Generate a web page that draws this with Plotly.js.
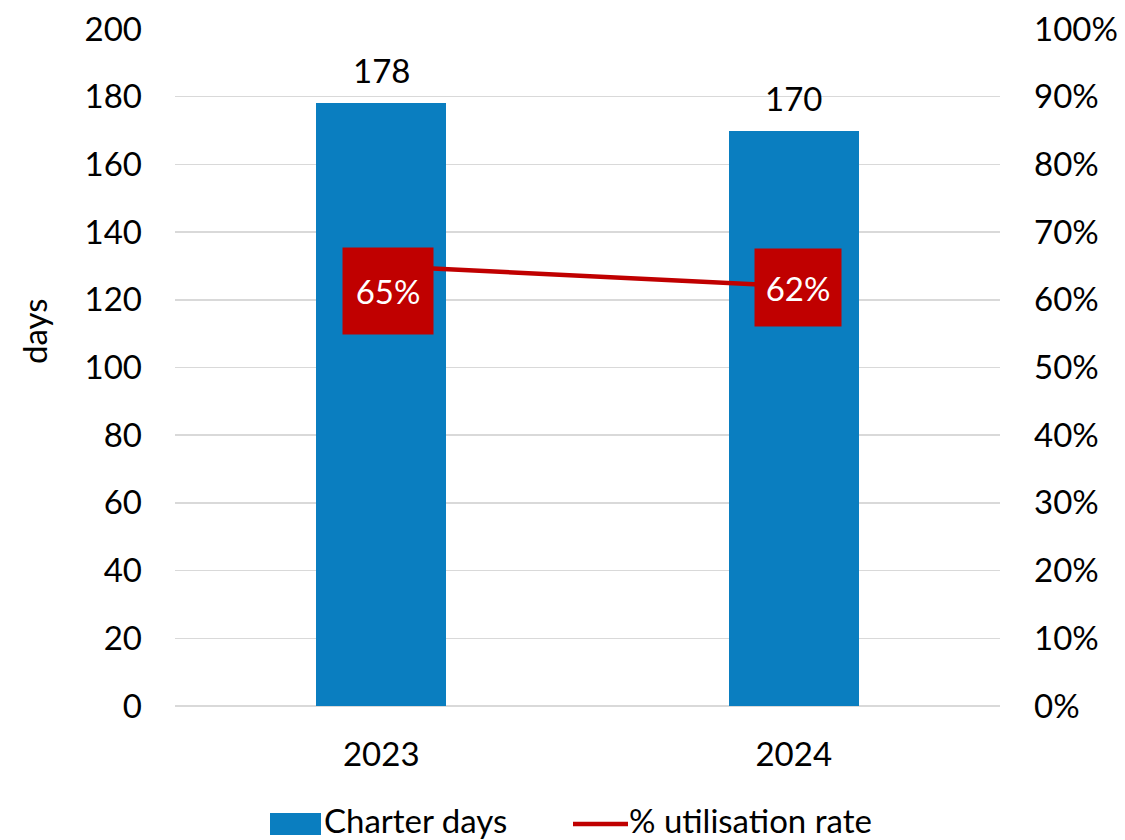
<!DOCTYPE html>
<html>
<head>
<meta charset="utf-8">
<script src="https://cdn.plot.ly/plotly-3.0.1.min.js"></script>
<style>html,body{margin:0;padding:0;background:#fff;}#chart{width:1125px;height:840px;}</style>
</head>
<body>
<div id="chart"></div>
<script>
const years = ['2023', '2024'];
const charterDays = [178, 170];
const utilisation = [0.65, 0.62];
const utilLabels = ['65%', '62%'];
const daysTicks = [0, 20, 40, 60, 80, 100, 120, 140, 160, 180, 200];
const pctTicks = [0, 0.1, 0.2, 0.3, 0.4, 0.5, 0.6, 0.7, 0.8, 0.9, 1.0];

const FONT = 'Lato, "Open Sans", sans-serif';
const FS = 33;
const BLUE = '#0a7ec0';
const RED = '#c00000';

const traces = [
  {
    type: 'bar', x: years, y: charterDays, name: 'Charter days',
    marker: {color: BLUE}, width: 0.315, yaxis: 'y', hoverinfo: 'skip'
  },
  {
    type: 'scatter', mode: 'lines', x: years, y: utilisation, name: '% utilisation rate',
    line: {color: RED, width: 4.5}, yaxis: 'y2', hoverinfo: 'skip'
  }
];

const annotations = [];
// value labels above bars (category index positions)
years.forEach((yr, i) => {
  annotations.push({
    x: i, y: charterDays[i], xref: 'x', yref: 'y', text: String(charterDays[i]),
    showarrow: false, yanchor: 'bottom', yshift: 11,
    font: {family: FONT, size: FS, color: '#000'}
  });
});
// utilisation labels in red boxes
const boxW = [90, 86], boxH = [86, 77], boxDX = [7, 4], boxDY = [-25, -1];
years.forEach((yr, i) => {
  annotations.push({
    x: i, y: utilisation[i], xref: 'x', yref: 'y2', text: utilLabels[i],
    showarrow: false, xanchor: 'center', yanchor: 'middle',
    xshift: boxDX[i], yshift: boxDY[i], width: boxW[i], height: boxH[i],
    bgcolor: RED, borderpad: 0,
    font: {family: FONT, size: FS, color: '#fff'}
  });
});
// y-axis title
annotations.push({xref: 'paper', yref: 'paper', x: (34 - 175) / 825, y: (706 - 331) / 677,
  xanchor: 'center', yanchor: 'middle', showarrow: false, text: 'days', textangle: -90,
  font: {family: FONT, size: FS, color: '#000'}});
// custom legend text
annotations.push({xref: 'paper', yref: 'paper', x: (322 - 175) / 825, y: (706 - 820) / 677,
  xanchor: 'left', yanchor: 'middle', showarrow: false, text: 'Charter days',
  font: {family: FONT, size: FS, color: '#000'}});
annotations.push({xref: 'paper', yref: 'paper', x: (627 - 175) / 825, y: (706 - 820) / 677,
  xanchor: 'left', yanchor: 'middle', showarrow: false, text: '% utilisation rate',
  font: {family: FONT, size: FS, color: '#000'}});

const shapes = [
  {type: 'rect', xref: 'paper', yref: 'paper',
   x0: (270 - 175) / 825, x1: (321 - 175) / 825,
   y0: (706 - 835) / 677, y1: (706 - 813) / 677,
   fillcolor: BLUE, line: {width: 0}},
  {type: 'line', xref: 'paper', yref: 'paper',
   x0: (573 - 175) / 825, x1: (628 - 175) / 825,
   y0: (706 - 824) / 677, y1: (706 - 824) / 677,
   line: {color: RED, width: 4.5}}
];

const layout = {
  width: 1125, height: 840,
  margin: {l: 175, r: 125, t: 29, b: 134, pad: 0},
  paper_bgcolor: '#fff', plot_bgcolor: '#fff',
  showlegend: false,
  font: {family: FONT, size: FS, color: '#000'},
  bargap: 0,
  xaxis: {
    type: 'category', range: [-0.5, 1.5], showgrid: false, showline: false,
    zeroline: false, ticks: '', ticklabelstandoff: 26,
    tickfont: {family: FONT, size: FS, color: '#000'}
  },
  yaxis: {
    range: [0, 200], tickvals: daysTicks, ticktext: daysTicks.map(String),
    showgrid: true, gridcolor: '#d9d9d9', gridwidth: 1.5,
    zeroline: true, zerolinecolor: '#d9d9d9', zerolinewidth: 1.5,
    showline: false, ticks: '', ticklabelstandoff: 32,
    tickfont: {family: FONT, size: FS, color: '#000'}
  },
  yaxis2: {
    overlaying: 'y', side: 'right', range: [0, 1],
    tickvals: pctTicks, ticktext: pctTicks.map(v => Math.round(v * 100) + '%'),
    showgrid: false, zeroline: false, showline: false, ticks: '', ticklabelstandoff: 33,
    tickfont: {family: FONT, size: FS, color: '#000'}
  },
  annotations: annotations,
  shapes: shapes
};

Plotly.newPlot('chart', traces, layout, {staticPlot: true, displayModeBar: false});
</script>
</body>
</html>
